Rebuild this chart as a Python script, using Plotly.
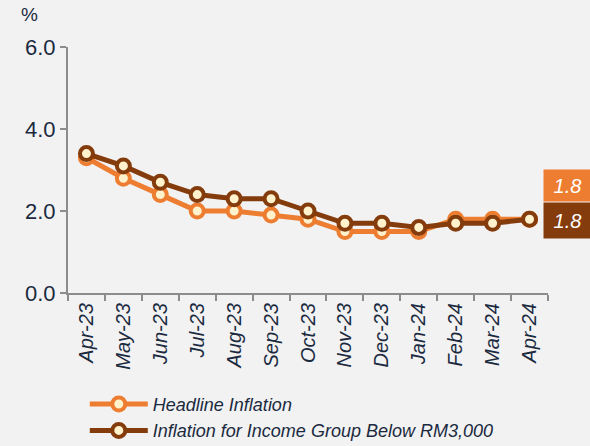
import plotly.graph_objects as go

months = ["Apr-23", "May-23", "Jun-23", "Jul-23", "Aug-23", "Sep-23", "Oct-23",
          "Nov-23", "Dec-23", "Jan-24", "Feb-24", "Mar-24", "Apr-24"]
headline = [3.3, 2.8, 2.4, 2.0, 2.0, 1.9, 1.8, 1.5, 1.5, 1.5, 1.8, 1.8, 1.8]
low_income = [3.4, 3.1, 2.7, 2.4, 2.3, 2.3, 2.0, 1.7, 1.7, 1.6, 1.7, 1.7, 1.8]
y_ticks = [0.0, 2.0, 4.0, 6.0]

ORANGE = "#ED7D31"
BROWN = "#843C0C"
CREAM = "#FFF2CC"
TXT = "#1B2A3F"
FONT = "Liberation Sans, Arial, sans-serif"

fig = go.Figure()
fig.add_trace(go.Scatter(
    x=months, y=headline, name="Headline Inflation", mode="lines+markers",
    line=dict(color=ORANGE, width=5),
    marker=dict(size=13, color=CREAM, line=dict(color=ORANGE, width=4)),
))
fig.add_trace(go.Scatter(
    x=months, y=low_income, name="Inflation for Income Group Below RM3,000", mode="lines+markers",
    line=dict(color=BROWN, width=5),
    marker=dict(size=13, color=CREAM, line=dict(color=BROWN, width=4)),
))

fig.update_layout(
    width=590, height=446,
    paper_bgcolor="#F2F2F2", plot_bgcolor="#F2F2F2",
    margin=dict(l=68, r=42, t=47, b=153, autoexpand=False),
    font=dict(family=FONT, color=TXT),
    showlegend=True,
    legend=dict(orientation="v", x=0.035, xanchor="left",
                yref="container", y=0.135, yanchor="top",
                font=dict(size=18, style="italic", color=TXT),
                bgcolor="rgba(0,0,0,0)", tracegroupgap=0, itemwidth=58),
    xaxis=dict(
        type="category", range=[-0.5, 12.5], automargin=False,
        showline=True, linecolor="#8C8C8C", linewidth=2,
        ticks="outside", tickson="boundaries", ticklen=6, tickcolor="#8C8C8C", tickwidth=2,
        tickangle=-90, tickfont=dict(size=20, style="italic", color=TXT),
        showgrid=False, zeroline=False,
    ),
    yaxis=dict(
        range=[0, 6], tickvals=y_ticks, ticktext=[f"{v:.1f}" for v in y_ticks],
        automargin=False,
        showline=True, linecolor="#8C8C8C", linewidth=2,
        ticks="outside", ticklen=6, tickcolor="#8C8C8C", tickwidth=2,
        tickfont=dict(size=22, color=TXT),
        showgrid=False, zeroline=False,
    ),
)

fig.add_annotation(text="%", xref="paper", yref="paper", x=-0.08, y=1.08,
                   xanchor="center", yanchor="bottom", showarrow=False,
                   font=dict(size=19, color=TXT))

fig.add_annotation(text=f"{headline[-1]:.1f}", xref="paper", yref="y",
                   x=0.9896, y=headline[-1], yshift=34, xanchor="left", yanchor="middle",
                   showarrow=False, bgcolor=ORANGE, width=45, height=29,
                   font=dict(size=20, color="white", style="italic"))
fig.add_annotation(text=f"{low_income[-1]:.1f}", xref="paper", yref="y",
                   x=0.9896, y=low_income[-1], yshift=-1, xanchor="left", yanchor="middle",
                   showarrow=False, bgcolor=BROWN, width=45, height=33,
                   font=dict(size=20, color="white", style="italic"))

fig.write_html("out.html", config={"displayModeBar": False},
               post_script="document.body.style.margin='0';")
